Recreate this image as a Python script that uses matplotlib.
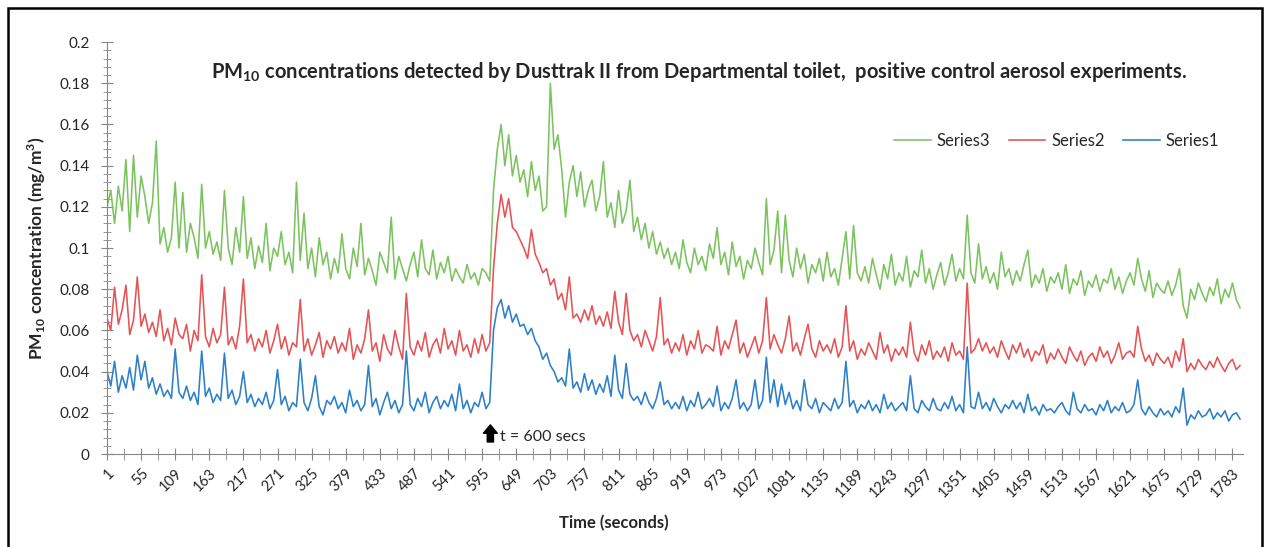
import numpy as np
import matplotlib
matplotlib.use("Agg")
import matplotlib.pyplot as plt
from matplotlib.patches import Rectangle

plt.rcParams['font.family'] = ['Lato', 'DejaVu Sans']
plt.rcParams['mathtext.fontset'] = 'custom'
plt.rcParams['mathtext.rm'] = 'Lato'
plt.rcParams['mathtext.bf'] = 'Lato:bold'

# readings every 6 seconds, t = 1, 7, 13, ... 1795
step = 6
series3 = [
    0.120, 0.128, 0.112, 0.130, 0.118, 0.143, 0.108, 0.145, 0.115, 0.135,
    0.125, 0.112, 0.122, 0.152, 0.102, 0.110, 0.098, 0.105, 0.132, 0.100,
    0.127, 0.098, 0.112, 0.105, 0.095, 0.131, 0.100, 0.108, 0.097, 0.103,
    0.094, 0.128, 0.100, 0.092, 0.110, 0.098, 0.125, 0.095, 0.105, 0.090,
    0.101, 0.093, 0.112, 0.089, 0.100, 0.096, 0.108, 0.092, 0.098, 0.088,
    0.132, 0.094, 0.117, 0.090, 0.100, 0.086, 0.105, 0.092, 0.098, 0.085,
    0.095, 0.088, 0.107, 0.090, 0.085, 0.100, 0.091, 0.112, 0.087, 0.095,
    0.089, 0.082, 0.098, 0.093, 0.088, 0.115, 0.085, 0.096, 0.090, 0.084,
    0.092, 0.098, 0.086, 0.104, 0.090, 0.087, 0.099, 0.085, 0.093, 0.088,
    0.096, 0.084, 0.090, 0.086, 0.083, 0.092, 0.085, 0.088, 0.082, 0.090,
    0.088, 0.084, 0.128, 0.148, 0.160, 0.140, 0.155, 0.135, 0.145, 0.132,
    0.138, 0.125, 0.142, 0.128, 0.135, 0.118, 0.120, 0.180, 0.148, 0.155,
    0.138, 0.115, 0.132, 0.140, 0.125, 0.137, 0.120, 0.128, 0.133, 0.118,
    0.125, 0.142, 0.115, 0.122, 0.110, 0.128, 0.112, 0.118, 0.133, 0.108,
    0.115, 0.104, 0.112, 0.100, 0.108, 0.097, 0.103, 0.095, 0.100, 0.092,
    0.098, 0.090, 0.104, 0.093, 0.088, 0.100, 0.092, 0.096, 0.089, 0.102,
    0.095, 0.110, 0.092, 0.098, 0.087, 0.103, 0.091, 0.096, 0.085, 0.094,
    0.090, 0.100, 0.093, 0.087, 0.124, 0.092, 0.099, 0.118, 0.088, 0.116,
    0.094, 0.086, 0.100, 0.090, 0.097, 0.083, 0.092, 0.088, 0.095, 0.084,
    0.098, 0.086, 0.090, 0.082, 0.095, 0.108, 0.085, 0.111, 0.088, 0.084,
    0.091, 0.083, 0.095, 0.087, 0.080, 0.092, 0.085, 0.097, 0.082, 0.088,
    0.084, 0.096, 0.081, 0.089, 0.086, 0.099, 0.083, 0.090, 0.080, 0.087,
    0.093, 0.082, 0.088, 0.097, 0.084, 0.090, 0.085, 0.116, 0.088, 0.083,
    0.102, 0.085, 0.091, 0.083, 0.088, 0.080, 0.098, 0.086, 0.090, 0.082,
    0.089, 0.084, 0.092, 0.099, 0.081, 0.087, 0.083, 0.090, 0.079, 0.086,
    0.083, 0.088, 0.080, 0.092, 0.078, 0.085, 0.082, 0.089, 0.077, 0.084,
    0.081, 0.087, 0.079, 0.085, 0.083, 0.090, 0.080, 0.086, 0.078, 0.084,
    0.088, 0.082, 0.095, 0.085, 0.079, 0.089, 0.076, 0.083, 0.080, 0.078,
    0.084, 0.077, 0.082, 0.090, 0.072, 0.066, 0.080, 0.075, 0.083, 0.078,
    0.074, 0.081, 0.077, 0.085, 0.073, 0.080, 0.076, 0.083, 0.075, 0.071,
]
series2 = [
    0.066, 0.060, 0.081, 0.063, 0.070, 0.082, 0.058, 0.065, 0.086, 0.062,
    0.068, 0.059, 0.064, 0.057, 0.070, 0.055, 0.061, 0.053, 0.066, 0.058,
    0.056, 0.063, 0.050, 0.060, 0.055, 0.087, 0.057, 0.052, 0.061, 0.054,
    0.058, 0.081, 0.053, 0.057, 0.051, 0.062, 0.085, 0.054, 0.058, 0.050,
    0.056, 0.052, 0.060, 0.049, 0.055, 0.063, 0.051, 0.057, 0.048, 0.054,
    0.052, 0.075, 0.050, 0.056, 0.048, 0.053, 0.059, 0.047, 0.055, 0.051,
    0.057, 0.049, 0.054, 0.050, 0.061, 0.046, 0.053, 0.049, 0.056, 0.070,
    0.050, 0.054, 0.045, 0.058, 0.051, 0.048, 0.060, 0.052, 0.046, 0.078,
    0.052, 0.048, 0.055, 0.050, 0.059, 0.047, 0.053, 0.056, 0.049, 0.061,
    0.051, 0.055, 0.048, 0.060, 0.050, 0.053, 0.047, 0.056, 0.049, 0.058,
    0.050, 0.054, 0.090, 0.112, 0.126, 0.115, 0.124, 0.110, 0.108, 0.104,
    0.100, 0.095, 0.109, 0.097, 0.093, 0.088, 0.090, 0.082, 0.085, 0.075,
    0.078, 0.070, 0.086, 0.066, 0.068, 0.064, 0.070, 0.065, 0.072, 0.063,
    0.067, 0.062, 0.069, 0.061, 0.079, 0.064, 0.058, 0.078, 0.060, 0.055,
    0.058, 0.052, 0.060, 0.055, 0.050, 0.057, 0.076, 0.053, 0.056, 0.049,
    0.054, 0.050, 0.058, 0.048, 0.055, 0.051, 0.060, 0.049, 0.053, 0.052,
    0.050, 0.062, 0.048, 0.055, 0.051, 0.058, 0.065, 0.049, 0.054, 0.047,
    0.052, 0.057, 0.049, 0.055, 0.076, 0.051, 0.058, 0.053, 0.049, 0.056,
    0.067, 0.050, 0.054, 0.048, 0.056, 0.063, 0.051, 0.047, 0.055, 0.050,
    0.053, 0.049, 0.056, 0.047, 0.052, 0.072, 0.050, 0.055, 0.046, 0.051,
    0.048, 0.054, 0.050, 0.046, 0.059, 0.049, 0.053, 0.045, 0.051, 0.048,
    0.052, 0.047, 0.064, 0.049, 0.045, 0.053, 0.048, 0.055, 0.046, 0.050,
    0.047, 0.052, 0.045, 0.054, 0.048, 0.050, 0.046, 0.083, 0.049, 0.051,
    0.056, 0.050, 0.054, 0.049, 0.052, 0.047, 0.055, 0.050, 0.046, 0.053,
    0.049, 0.054, 0.047, 0.051, 0.045, 0.050, 0.048, 0.053, 0.044, 0.049,
    0.046, 0.051, 0.047, 0.044, 0.052, 0.048, 0.045, 0.050, 0.043, 0.047,
    0.049, 0.045, 0.052, 0.047, 0.050, 0.044, 0.048, 0.054, 0.046, 0.049,
    0.050, 0.047, 0.062, 0.051, 0.045, 0.048, 0.043, 0.049, 0.046, 0.044,
    0.047, 0.042, 0.050, 0.045, 0.056, 0.040, 0.044, 0.041, 0.046, 0.043,
    0.041, 0.045, 0.042, 0.047, 0.043, 0.040, 0.044, 0.046, 0.041, 0.043,
]
series1 = [
    0.040, 0.033, 0.045, 0.030, 0.038, 0.032, 0.042, 0.031, 0.048, 0.036,
    0.045, 0.032, 0.037, 0.029, 0.034, 0.028, 0.031, 0.027, 0.051, 0.030,
    0.027, 0.033, 0.026, 0.030, 0.024, 0.050, 0.028, 0.032, 0.025, 0.029,
    0.026, 0.049, 0.027, 0.031, 0.024, 0.028, 0.040, 0.025, 0.029, 0.023,
    0.027, 0.024, 0.030, 0.022, 0.026, 0.041, 0.024, 0.028, 0.021, 0.025,
    0.023, 0.046, 0.025, 0.021, 0.027, 0.038, 0.023, 0.019, 0.026, 0.024,
    0.028, 0.022, 0.025, 0.020, 0.031, 0.023, 0.026, 0.021, 0.024, 0.043,
    0.023, 0.027, 0.019, 0.025, 0.030, 0.022, 0.026, 0.020, 0.024, 0.050,
    0.024, 0.021, 0.027, 0.023, 0.030, 0.020, 0.025, 0.028, 0.022, 0.026,
    0.023, 0.029, 0.021, 0.034, 0.022, 0.026, 0.020, 0.025, 0.023, 0.030,
    0.022, 0.025, 0.060, 0.071, 0.075, 0.066, 0.072, 0.064, 0.068, 0.062,
    0.063, 0.058, 0.061, 0.055, 0.052, 0.046, 0.049, 0.043, 0.040, 0.035,
    0.037, 0.033, 0.051, 0.032, 0.035, 0.030, 0.039, 0.031, 0.036, 0.029,
    0.034, 0.030, 0.038, 0.028, 0.048, 0.031, 0.027, 0.044, 0.029, 0.026,
    0.028, 0.024, 0.030, 0.025, 0.022, 0.027, 0.035, 0.024, 0.026, 0.022,
    0.025, 0.022, 0.028, 0.021, 0.026, 0.023, 0.030, 0.022, 0.024, 0.027,
    0.023, 0.033, 0.021, 0.025, 0.022, 0.027, 0.036, 0.022, 0.025, 0.021,
    0.024, 0.036, 0.022, 0.026, 0.047, 0.025, 0.036, 0.023, 0.034, 0.024,
    0.030, 0.022, 0.026, 0.021, 0.036, 0.024, 0.022, 0.027, 0.020, 0.025,
    0.023, 0.021, 0.027, 0.022, 0.025, 0.045, 0.023, 0.026, 0.020, 0.024,
    0.022, 0.026, 0.021, 0.024, 0.020, 0.029, 0.022, 0.025, 0.021, 0.023,
    0.025, 0.021, 0.038, 0.022, 0.020, 0.026, 0.023, 0.021, 0.027, 0.022,
    0.021, 0.025, 0.022, 0.028, 0.021, 0.024, 0.020, 0.052, 0.023, 0.022,
    0.030, 0.022, 0.025, 0.021, 0.027, 0.023, 0.020, 0.024, 0.022, 0.026,
    0.022, 0.025, 0.020, 0.029, 0.021, 0.023, 0.019, 0.024, 0.021, 0.022,
    0.020, 0.023, 0.025, 0.021, 0.019, 0.030, 0.022, 0.020, 0.024, 0.021,
    0.022, 0.019, 0.024, 0.021, 0.026, 0.020, 0.023, 0.021, 0.025, 0.020,
    0.021, 0.024, 0.036, 0.022, 0.019, 0.023, 0.020, 0.018, 0.022, 0.019,
    0.021, 0.018, 0.023, 0.020, 0.032, 0.014, 0.019, 0.017, 0.021, 0.018,
    0.019, 0.022, 0.017, 0.020, 0.018, 0.021, 0.016, 0.019, 0.020, 0.017,
]
t = np.arange(1, 1 + step * len(series1), step)
xtick_labels = list(range(1, 1800, 54))

fig = plt.figure(figsize=(12.66, 5.47), dpi=100, facecolor='white')
ax = fig.add_axes([0.0845, 0.170, 0.8975, 0.753])

ax.plot(t, series3, color='#7cc35f', lw=1.15, label='Series3')
ax.plot(t, series2, color='#e55354', lw=1.15, label='Series2')
ax.plot(t, series1, color='#2c7fc9', lw=1.15, label='Series1')

ax.set_xlim(1, 1800)
ax.set_ylim(0, 0.2)
ax.set_yticks(np.arange(0, 0.201, 0.02))
ax.set_yticklabels(['0', '0.02', '0.04', '0.06', '0.08', '0.1', '0.12',
                    '0.14', '0.16', '0.18', '0.2'])
ax.set_yticks(np.arange(0, 0.2, 0.004), minor=True)
ax.set_xticks(xtick_labels)
ax.set_xticklabels([str(v) for v in xtick_labels], rotation=45,
                   ha='right', rotation_mode='anchor')
ax.set_xticks(np.arange(28, 1800, 54), minor=True)

for s in ['top', 'right']:
    ax.spines[s].set_visible(False)
for s in ['left', 'bottom']:
    ax.spines[s].set_color('#868686')
ax.tick_params(axis='both', which='both', direction='inout', color='#868686')
ax.tick_params(axis='y', which='major', length=9, labelsize=11, labelcolor='#262626', pad=8)
ax.tick_params(axis='y', which='minor', length=6)
ax.tick_params(axis='x', which='both', length=9, labelsize=10.5, labelcolor='#262626', pad=4)

ax.set_xlabel('Time (seconds)', fontsize=12, fontweight='bold', color='#262626')
ax.xaxis.set_label_coords((614 - 107) / 1136, -0.148)
ax.set_ylabel(r'PM$_\mathbf{10}$ concentration (mg/m$^\mathbf{3}$)', fontsize=12.5,
              fontweight='bold', color='#262626', labelpad=8)

fig.text(0.5524, 0.868, r'PM$_\mathbf{10}$ concentrations detected by Dusttrak II from Departmental toilet,  '
         'positive control aerosol experiments.', ha='center', va='center',
         fontsize=14.5, fontweight='bold', color='#262626')

ax.legend(loc='upper right', bbox_to_anchor=(0.992, 0.815), ncol=3, frameon=False,
          fontsize=12, handlelength=2.2, columnspacing=1.1, handletextpad=0.35,
          labelcolor='#262626')

ax.annotate('', xy=(608, 0.0155), xytext=(608, 0.0045),
            arrowprops=dict(arrowstyle='simple,head_width=1.0,head_length=0.6,tail_width=0.45',
                            color='black'))
ax.text(624, 0.0082, 't = 600 secs', fontsize=11.5, color='#262626', va='center')

fig.patches.append(Rectangle((8 / 1266, -0.02), 1254 / 1266, 1.02 - 8 / 547,
                             transform=fig.transFigure, fill=False, ec='black', lw=1.8))

fig.savefig('out.png', dpi=100, facecolor='white')
